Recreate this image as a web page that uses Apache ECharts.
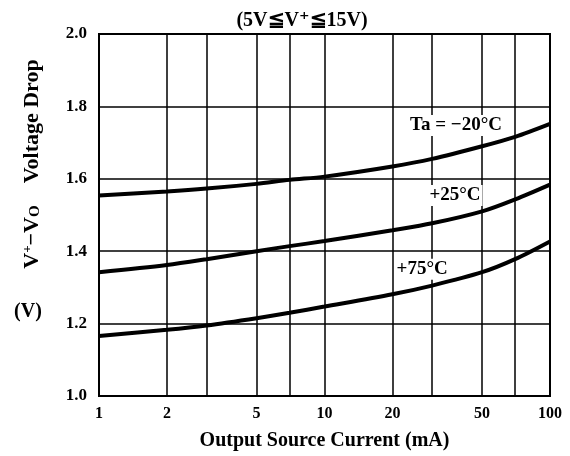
<!DOCTYPE html>
<html>
<head>
<meta charset="utf-8">
<script src="https://cdn.jsdelivr.net/npm/echarts@6/dist/echarts.min.js"></script>
<style>
  html, body { margin: 0; padding: 0; background: #fff; }
  #main { width: 570px; height: 456px; }
</style>
</head>
<body>
<div id="main"></div>
<script>
// 数据
var current = [1, 2, 3, 5, 7, 10, 20, 30, 50, 70, 100];
var vMinus20 = [1.554, 1.565, 1.573, 1.586, 1.597, 1.606, 1.634, 1.655, 1.69, 1.716, 1.752];
var vPlus25 = [1.342, 1.362, 1.378, 1.40, 1.414, 1.428, 1.458, 1.477, 1.51, 1.543, 1.584];
var vPlus75 = [1.166, 1.183, 1.195, 1.215, 1.230, 1.247, 1.281, 1.305, 1.342, 1.378, 1.427];
var xGridValues = [1, 2, 3, 5, 7, 10, 20, 30, 50, 70, 100];
var xLabelValues = [1, 2, 5, 10, 20, 50, 100];

var FONT = '"Liberation Serif", "DejaVu Serif", serif';

function pairs(xs, ys) {
  return xs.map(function (x, i) { return [x, ys[i]]; });
}

var chart = echarts.init(document.getElementById('main'));

// 曲线 + 旁边的温度标注
function curve(name, values, labelText, labelCoord) {
  return {
    name: name,
    type: 'line',
    data: pairs(current, values),
    smooth: 0.3,
    showSymbol: false,
    lineStyle: { color: '#000', width: 4 },
    z: 5,
    markPoint: {
      symbol: 'rect',
      symbolSize: 1,
      itemStyle: { color: 'rgba(0,0,0,0)' },
      data: [{ coord: labelCoord, value: labelText }],
      label: {
        show: true,
        position: 'inside',
        formatter: labelText,
        color: '#000',
        fontFamily: FONT,
        fontWeight: 'bold',
        fontSize: 19,
        backgroundColor: '#fff',
        padding: [1, 2]
      }
    }
  };
}

var option = {
  backgroundColor: '#fff',
  animation: false,
  grid: {
    left: 99, right: 20, top: 34, bottom: 59,
    show: true, borderColor: '#000', borderWidth: 2
  },
  xAxis: {
    type: 'log',
    logBase: 10,
    min: 1,
    max: 100,
    axisLine: { show: true, lineStyle: { color: '#000', width: 2 } },
    axisTick: {
      show: true,
      inside: true,
      length: 363,
      customValues: xGridValues,
      lineStyle: { color: '#000', width: 1.5 }
    },
    splitLine: { show: false },
    axisLabel: {
      customValues: xLabelValues,
      color: '#000',
      fontFamily: FONT,
      fontWeight: 'bold',
      fontSize: 16,
      margin: 10
    },
    name: 'Output Source Current (mA)',
    nameLocation: 'middle',
    nameGap: 35,
    nameTextStyle: { color: '#000', fontFamily: FONT, fontWeight: 'bold', fontSize: 20 }
  },
  yAxis: {
    type: 'value',
    min: 1.0,
    max: 2.0,
    interval: 0.2,
    axisLine: { show: true, lineStyle: { color: '#000', width: 2 } },
    axisTick: { show: false },
    splitLine: { show: true, lineStyle: { color: '#000', width: 1.5 } },
    axisLabel: {
      formatter: function (v) { return v.toFixed(1); },
      color: '#000',
      fontFamily: FONT,
      fontWeight: 'bold',
      fontSize: 17,
      margin: 12
    }
  },
  graphic: [
    {
      type: 'text',
      x: 302,
      y: 21,
      style: {
        text: '(5V≦V⁺≦15V)',
        fill: '#000',
        font: 'bold 20px ' + FONT,
        align: 'center',
        verticalAlign: 'middle'
      }
    },
    {
      type: 'text',
      x: 32,
      y: 164,
      rotation: Math.PI / 2,
      style: {
        text: 'V{sup|+}−V{sub|O}    Voltage Drop',
        fill: '#000',
        font: 'bold 22px ' + FONT,
        align: 'center',
        verticalAlign: 'middle',
        rich: {
          sup: { fontSize: 13, fontWeight: 'bold', fontFamily: FONT, verticalAlign: 'top', padding: [0, 0, 9, 0] },
          sub: { fontSize: 15, fontWeight: 'bold', fontFamily: FONT, padding: [7, 0, 0, 0] }
        }
      }
    },
    {
      type: 'text',
      x: 28,
      y: 312,
      style: {
        text: '(V)',
        fill: '#000',
        font: 'bold 20px ' + FONT,
        align: 'center',
        verticalAlign: 'middle'
      }
    }
  ],
  series: [
    curve('Ta=-20°C', vMinus20, 'Ta = −20°C', [38.3, 1.747]),
    curve('+25°C', vPlus25, '+25°C', [37.9, 1.554]),
    curve('+75°C', vPlus75, '+75°C', [27.1, 1.35])
  ]
};

chart.setOption(option);
</script>
</body>
</html>
